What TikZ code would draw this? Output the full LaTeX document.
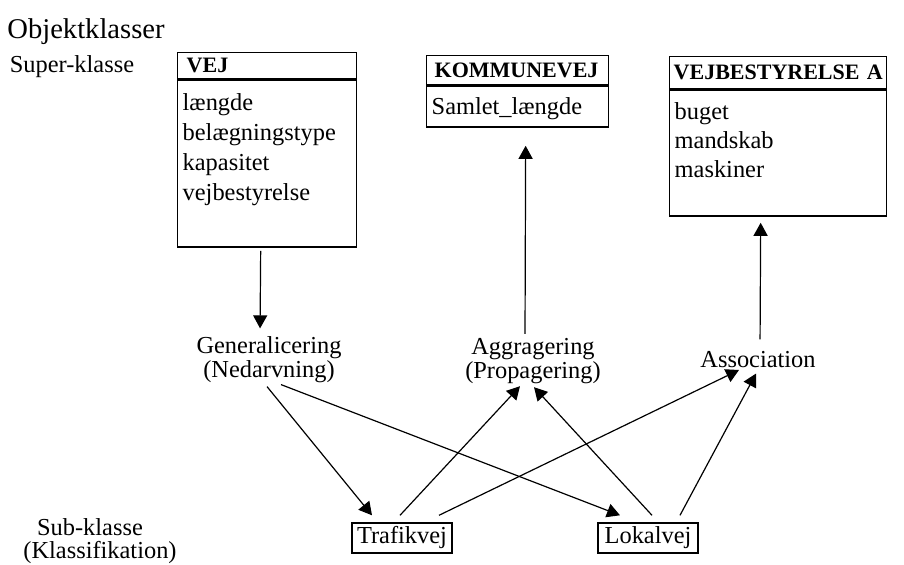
\documentclass[tikz,border=0pt]{standalone}
\usepackage{fontspec}
\setmainfont{Liberation Serif}
\usetikzlibrary{arrows.meta}
\newcommand{\txtsize}{\fontsize{12.2}{15}\selectfont}
\begin{document}
\begin{tikzpicture}[x=0.5pt,y=-0.5pt,
    hd/.style n args={2}{draw,line width=0.7pt,anchor=north west,inner xsep=2pt,inner ysep=0pt,text width=#1,minimum height=#2,align=left,font=\fontsize{11}{13}\selectfont\bfseries},
    bd/.style n args={3}{draw,line width=0.7pt,anchor=north west,inner xsep=2.5pt,inner ysep=0pt,text width=#1,text height=#2,text depth=#3,align=left,font=\txtsize},
    lb/.style={align=center,inner sep=0pt,font=\fontsize{12.2}{11}\selectfont},
    tx/.style={inner sep=0pt,font=\txtsize},
    sb/.style={draw,line width=0.7pt,minimum width=50pt,minimum height=15pt,inner xsep=2pt,inner ysep=0pt,font=\txtsize},
    a/.style={-{Triangle[length=6.5pt,width=7pt]},line width=0.6pt}]
    \useasboundingbox (0,0) rectangle (904,565);
    % left side texts
    \node[tx,font=\fontsize{14.3}{16}\selectfont] (title) at (86,32) {Objektklasser};
    \node[tx] (super) at (72,67) {Super-klasse};
    \node[tx] (sub) at (90,527) {Sub-klasse};
    \node[tx] (klass) at (100,553) {(Klassifikation)};
    % super classes
    \node[hd={85.5pt}{13pt}] (vejhd) at (177,52) {\hspace{2.5pt}VEJ};
    \node[bd={84.5pt}{15.3pt}{68.2pt}] (vejbd) at (vejhd.south west) {længde\\belægningstype\\kapasitet\\vejbestyrelse};
    \node[hd={87pt}{14.5pt}] (komhd) at (426,55) {\hspace{2pt}KOMMUNEVEJ};
    \node[bd={86pt}{14.3pt}{6.2pt}] (kombd) at (komhd.south west) {Samlet\_længde};
    \node[hd={104.5pt}{16pt}] (vbhd) at (669,56) {\mbox{VEJBESTYRELSE A}};
    \node[bd={103.5pt}{14.8pt}{48.2pt},font=\fontsize{12.2}{14.5}\selectfont] (vbbd) at (vbhd.south west) {buget\\mandskab\\maskiner};
    % relations
    \node[lb] (gen) at (269,360) {Generalicering\\(Nedarvning)};
    \node[lb] (agg) at (533,361) {Aggragering\\(Propagering)};
    \node[lb] (assoc) at (758,360) {Association};
    % sub classes
    \node[sb] (traf) at (402,538) {Trafikvej};
    \node[sb] (lokal) at (648,538) {Lokalvej};
    % connectors
    \draw[a,shorten <=1.5pt,shorten >=4pt] ([xshift=-3.25pt]vejbd.south) -- ([xshift=-4.5pt]gen.north);
    \draw[a,shorten <=2pt,shorten >=9pt] ([xshift=-4pt]agg.north) -- ([xshift=4pt]kombd.south);
    \draw[a,shorten <=6pt,shorten >=3pt] ([xshift=1pt]assoc.north) -- ([xshift=-8.75pt]vbbd.south);
    \draw[a] ([xshift=-1pt,yshift=-1.5pt]gen.south) -- ([xshift=-15pt,yshift=3.5pt]traf.north);
    \draw[a] ([xshift=6pt,yshift=-0.5pt]gen.south) -- ([xshift=-14pt,yshift=3.5pt]lokal.north);
    \draw[a] ([xshift=-1pt,yshift=3.5pt]traf.north) -- ([xshift=-6.5pt,yshift=-1pt]agg.south);
    \draw[a] ([xshift=18.5pt,yshift=3.5pt]traf.north) -- ([xshift=-9.5pt,yshift=-0.7pt]assoc.south);
    \draw[a] ([xshift=2pt,yshift=3.5pt]lokal.north) -- ([xshift=0.5pt,yshift=-1.5pt]agg.south);
    \draw[a] ([xshift=16pt,yshift=3.5pt]lokal.north) -- ([xshift=-1pt,yshift=-2.5pt]assoc.south);
\end{tikzpicture}
\end{document}
